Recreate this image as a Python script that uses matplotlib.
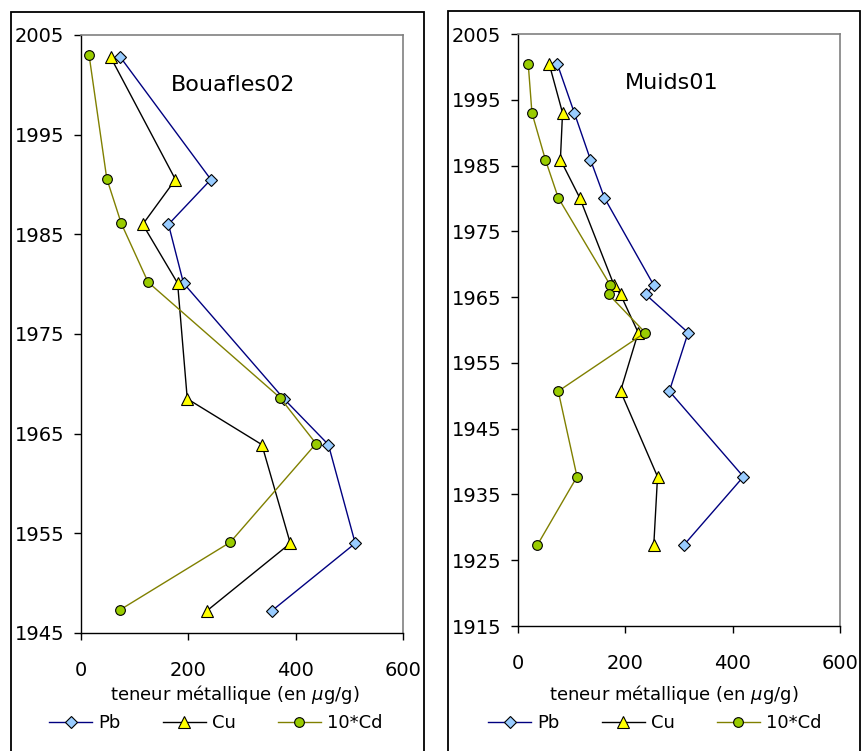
import matplotlib
matplotlib.use("Agg")
import matplotlib.pyplot as plt
from matplotlib.patches import Rectangle

# ---- Data: Bouafles02 ----
b_years = [2002.8, 1990.5, 1986.0, 1980.1, 1968.5, 1963.9, 1954.0, 1947.2]
b_pb = [73, 242, 163, 191, 378, 461, 511, 355]
b_cu = [55, 176, 115, 180, 198, 337, 390, 234]
b_cd_years = [2003.0, 1990.6, 1986.1, 1980.2, 1968.6, 1964.0, 1954.1, 1947.3]
b_cd = [15, 48, 75, 125, 371, 438, 278, 72]

# ---- Data: Muids01 ----
m_years = [2000.5, 1993.0, 1985.9, 1980.1, 1966.8, 1965.4, 1959.6, 1950.7, 1937.7, 1927.3]
m_pb = [73, 105, 135, 161, 253, 238, 317, 282, 420, 309]
m_cu = [58, 83, 79, 115, 179, 191, 224, 191, 260, 253]
m_cd = [19, 26, 51, 75, 172, 169, 237, 75, 110, 36]

left_yticks = [1945, 1955, 1965, 1975, 1985, 1995, 2005]
right_yticks = [1915, 1925, 1935, 1945, 1955, 1965, 1975, 1985, 1995, 2005]
xticks = [0, 200, 400, 600]
series_labels = ["Pb", "Cu", "10*Cd"]
xlabel_text = r"teneur métallique (en $\mu$g/g)"

W, H = 861, 751
fig = plt.figure(figsize=(W / 100, H / 100), dpi=100)
plt.rcParams['font.family'] = ['DejaVu Sans']
plt.rcParams['mathtext.fontset'] = 'dejavusans'

def fx(px):
    return px / W

def fy(py):
    return 1 - py / H

# outer boxes
fig.patches.append(Rectangle((fx(11), fy(760)), fx(424) - fx(11), fy(12) - fy(760),
                             transform=fig.transFigure, fill=False, ec='black', lw=1.3))
fig.patches.append(Rectangle((fx(448), fy(760)), fx(860) - fx(448), fy(11) - fy(760),
                             transform=fig.transFigure, fill=False, ec='black', lw=1.3))

ax1 = fig.add_axes([fx(81), fy(633), fx(403) - fx(81), fy(35) - fy(633)])
ax2 = fig.add_axes([fx(518), fy(626), fx(840) - fx(518), fy(34) - fy(626)])

pb_style = dict(color='#000080', lw=1.0, marker='D', markersize=6,
                markerfacecolor='#99CCFF', markeredgecolor='#000000', markeredgewidth=0.8)
cu_style = dict(color='#000000', lw=1.0, marker='^', markersize=8,
                markerfacecolor='#FFFF00', markeredgecolor='#000000', markeredgewidth=0.8)
cd_style = dict(color='#808000', lw=1.0, marker='o', markersize=7,
                markerfacecolor='#99CC00', markeredgecolor='#000000', markeredgewidth=0.8)

def style_axes(ax, ylo, yticks):
    ax.set_xlim(0, 600)
    ax.set_ylim(ylo, 2005)
    ax.set_xticks(xticks)
    ax.set_yticks(yticks)
    for s in ['top', 'right']:
        ax.spines[s].set_color('#808080')
        ax.spines[s].set_linewidth(1.2)
    for s in ['left', 'bottom']:
        ax.spines[s].set_color('#000000')
        ax.spines[s].set_linewidth(1.0)
    ax.tick_params(axis='both', direction='out', length=5, width=1.0, labelsize=14)
    ax.tick_params(axis='y', pad=7)
    ax.tick_params(axis='x', pad=15)

# left panel
l1, = ax1.plot(b_pb, b_years, label=series_labels[0], **pb_style)
l2, = ax1.plot(b_cu, b_years, label=series_labels[1], **cu_style)
l3, = ax1.plot(b_cd, b_cd_years, label=series_labels[2], **cd_style)
style_axes(ax1, 1945, left_yticks)
fig.text(fx(233), fy(85), "Bouafles02", fontsize=16, ha='center', va='center')
fig.text(fx(235), fy(694), xlabel_text, fontsize=13, ha='center', va='center')

# right panel
ax2.plot(m_pb, m_years, label=series_labels[0], **pb_style)
ax2.plot(m_cu, m_years, label=series_labels[1], **cu_style)
ax2.plot(m_cd, m_years, label=series_labels[2], **cd_style)
style_axes(ax2, 1915, right_yticks)
fig.text(fx(672), fy(83), "Muids01", fontsize=16, ha='center', va='center')
fig.text(fx(674), fy(694), xlabel_text, fontsize=13, ha='center', va='center')

leg_kw = dict(loc='center left', ncol=3, frameon=False, fontsize=13, borderpad=0,
              borderaxespad=0, handlelength=2.4, handletextpad=0.35, columnspacing=2.3)
fig.legend([l1, l2, l3], series_labels, bbox_to_anchor=(fx(49), fy(723)), **leg_kw)
fig.legend([l1, l2, l3], series_labels, bbox_to_anchor=(fx(488), fy(723)), **leg_kw)

fig.savefig("out.png", dpi=100)
